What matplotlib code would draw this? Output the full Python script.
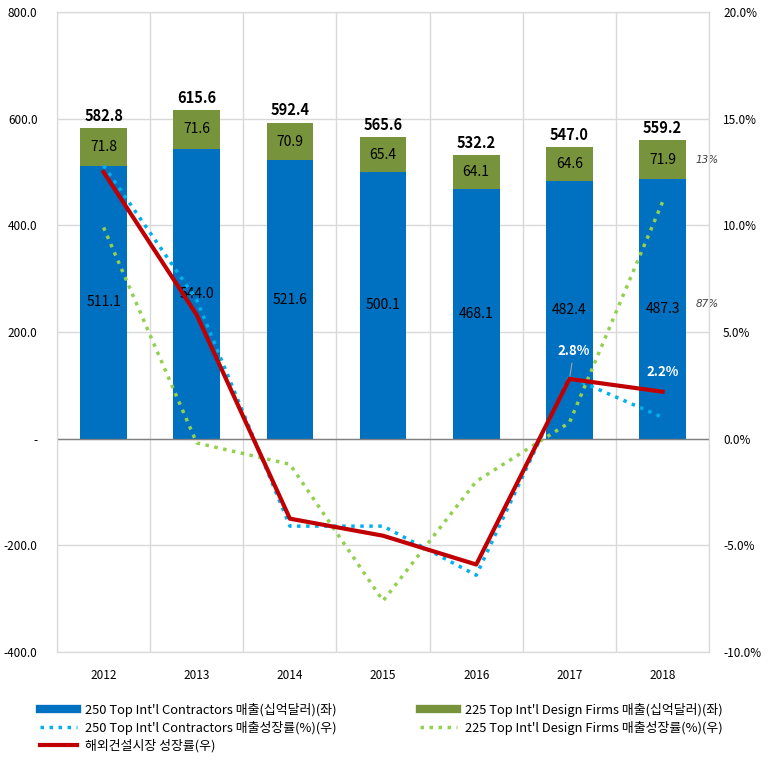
import numpy as np
import matplotlib
matplotlib.use("Agg")
from matplotlib import pyplot as plt
from matplotlib.lines import Line2D

plt.rcParams['font.family'] = ['Noto Sans CJK KR', 'DejaVu Sans']

years = ["2012", "2013", "2014", "2015", "2016", "2017", "2018"]
contractors = [511.1, 544.0, 521.6, 500.1, 468.1, 482.4, 487.3]
design = [71.8, 71.6, 70.9, 65.4, 64.1, 64.6, 71.9]
totals = [582.8, 615.6, 592.4, 565.6, 532.2, 547.0, 559.2]

contractors_growth = [12.8, 6.5, -4.1, -4.1, -6.4, 2.9, 1.0]
design_growth = [9.9, -0.2, -1.2, -7.6, -2.0, 0.75, 11.1]
market_growth = [12.5, 5.8, -3.75, -4.55, -5.9, 2.8, 2.2]

left_ticks = [-400, -200, 0, 200, 400, 600, 800]
left_labels = ["-400.0", "-200.0", "-", "200.0", "400.0", "600.0", "800.0"]
right_ticks = [-10, -5, 0, 5, 10, 15, 20]

BLUE = "#0070C0"
GREEN = "#77933C"
LBLUE = "#00B0F0"
LGREEN = "#92D050"
RED = "#C00000"
GRID = "#D9D9D9"

fig = plt.figure(figsize=(7.7, 7.64), dpi=100)
ax = fig.add_axes([0.074, 0.1466, 0.847, 0.8377])
x = np.arange(len(years))

ax.bar(x, contractors, width=0.5, color=BLUE, zorder=2)
ax.bar(x, design, width=0.5, bottom=contractors, color=GREEN, zorder=2)

for i in range(len(years)):
    ax.text(x[i], contractors[i] / 2, f"{contractors[i]:.1f}", ha="center", va="center",
            fontsize=10, color="black", zorder=3)
    ax.text(x[i], contractors[i] + design[i] / 2, f"{design[i]:.1f}", ha="center", va="center",
            fontsize=10, color="black", zorder=3)
    ax.text(x[i], totals[i] + 8, f"{totals[i]:.1f}", ha="center", va="bottom",
            fontsize=10.5, fontweight="bold", color="black", zorder=3)

# share of each part in the last year
ax.text(x[-1] + 0.35, contractors[-1] + design[-1] / 2, "13%", ha="left", va="center",
        fontsize=7.5, style="italic", color="#404040", family="DejaVu Sans")
ax.text(x[-1] + 0.35, contractors[-1] / 2 + 8, "87%", ha="left", va="center",
        fontsize=7.5, style="italic", color="#404040", family="DejaVu Sans")

ax.set_xlim(-0.5, len(years) - 0.5)
ax.set_ylim(-400, 800)
ax.set_yticks(left_ticks)
ax.set_yticklabels(left_labels)
ax.set_xticks(x)
ax.set_xticklabels(years)
ax.set_xticks(np.arange(-0.5, len(years), 1), minor=True)
ax.grid(axis="y", which="major", color=GRID, lw=1, zorder=0)
ax.grid(axis="x", which="minor", color=GRID, lw=1, zorder=0)
ax.tick_params(which="both", length=0)
ax.tick_params(axis="y", pad=14, labelsize=8.5)
ax.tick_params(axis="x", pad=12, labelsize=8.5)
ax.axhline(0, color="#808080", lw=1, zorder=2.5)
for s in ax.spines.values():
    s.set_color(GRID)

ax2 = ax.twinx()
ax2.plot(x, contractors_growth, color=LBLUE, lw=2.5, ls=(0, (1, 1.6)))
ax2.plot(x, design_growth, color=LGREEN, lw=2.5, ls=(0, (1, 1.6)))
ax2.plot(x, market_growth, color=RED, lw=3, solid_joinstyle="round")
ax2.set_ylim(-10, 20)
ax2.set_yticks(right_ticks)
ax2.set_yticklabels([f"{v:.1f}%" for v in right_ticks])
ax2.tick_params(length=0, pad=10, labelsize=8.5)
for s in ax2.spines.values():
    s.set_color(GRID)

ax2.annotate(f"{market_growth[5]:.1f}%", xy=(x[5], market_growth[5]),
             xytext=(x[5] + 0.05, market_growth[5] + 1.0), ha="center", va="bottom",
             fontsize=9.5, fontweight="bold", color="white",
             arrowprops=dict(arrowstyle="-", color="#A6A6A6", lw=0.8))
ax2.text(x[6], market_growth[6] + 0.6, f"{market_growth[6]:.1f}%", ha="center", va="bottom",
         fontsize=9.5, fontweight="bold", color="white")

dots = (0, (1, 1.6))
col1_handles = [
    Line2D([0], [0], color=BLUE, lw=6),
    Line2D([0], [0], color=LBLUE, lw=2.5, ls=dots),
    Line2D([0], [0], color=RED, lw=3),
]
col1_labels = [
    "250 Top Int'l Contractors 매출(십억달러)(좌)",
    "250 Top Int'l Contractors 매출성장률(%)(우)",
    "해외건설시장 성장률(우)",
]
col2_handles = [
    Line2D([0], [0], color=GREEN, lw=6),
    Line2D([0], [0], color=LGREEN, lw=2.5, ls=dots),
]
col2_labels = [
    "225 Top Int'l Design Firms 매출(십억달러)(좌)",
    "225 Top Int'l Design Firms 매출성장률(%)(우)",
]
leg_kw = dict(loc="upper left", frameon=False, fontsize=9.3, handlelength=2.9,
              handletextpad=0.55, labelspacing=0.3, borderpad=0, borderaxespad=0)
fig.legend(col1_handles, col1_labels, bbox_to_anchor=(40 / 770, 1 - 703 / 764), **leg_kw)
fig.legend(col2_handles, col2_labels, bbox_to_anchor=(420 / 770, 1 - 703 / 764), **leg_kw)

fig.savefig("out.png", dpi=100)
